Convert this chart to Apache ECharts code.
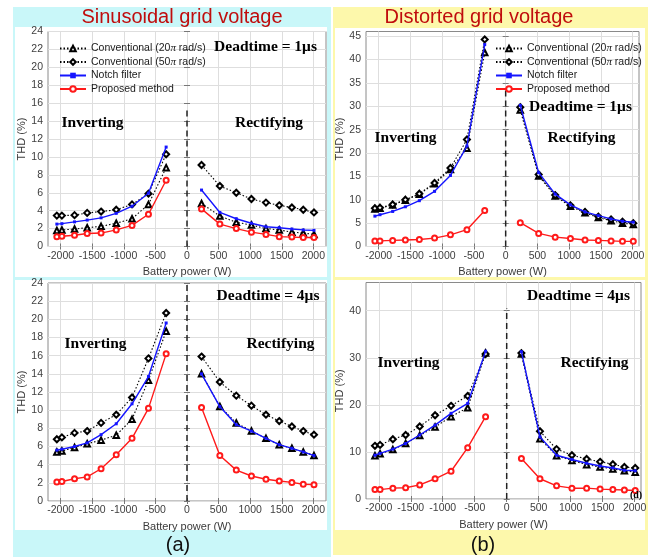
<!DOCTYPE html>
<html><head><meta charset="utf-8">
<script src="https://cdn.jsdelivr.net/npm/echarts@6/dist/echarts.min.js"></script>
<style>html,body{margin:0;padding:0;background:#fff;}#c{width:655px;height:557px;}</style>
</head><body><div id="c"></div>
<script>
// ---------- data ----------
const xPower = [-2060,-1980,-1780,-1580,-1360,-1120,-870,-610,-330, 230,520,780,1020,1250,1460,1660,1840,2010];
const xTickValues = [-2000,-1500,-1000,-500,0,500,1000,1500,2000];
const yTicksSmall = [0,2,4,6,8,10,12,14,16,18,20,22,24];
const yTicksTR = [0,5,10,15,20,25,30,35,40,45];
const yTicksBR = [0,10,20,30,40];
const seriesNames = ['Conventional (20π rad/s)','Conventional (50π rad/s)','Notch filter','Proposed method'];

// (a) sinusoidal grid voltage, deadtime = 1us
const sin1Conv20 = [1.8,1.85,1.95,2.1,2.25,2.6,3.1,4.7,8.8, 4.8,3.4,2.7,2.4,2.0,1.85,1.6,1.5,1.35];
const sin1Conv50 = [3.45,3.45,3.5,3.75,3.9,4.1,4.7,5.9,10.3, 9.1,6.75,6.0,5.3,4.9,4.6,4.35,4.1,3.8];
const sin1Notch  = [2.5,2.55,2.75,2.95,3.2,3.7,4.5,5.95,11.1, 6.3,3.8,3.1,2.6,2.2,2.1,1.95,1.85,1.8];
const sin1Prop   = [1.1,1.15,1.25,1.45,1.5,1.85,2.35,3.6,7.4, 4.2,2.5,2.0,1.6,1.35,1.1,1.05,1.0,1.0];
// (a) sinusoidal grid voltage, deadtime = 4us
const sin4Conv20 = [5.4,5.5,5.9,6.3,6.7,7.25,9.0,13.3,18.7, 14.0,10.4,8.6,7.7,6.9,6.2,5.8,5.4,5.0];
const sin4Conv50 = [6.8,7.0,7.5,7.7,8.6,9.5,11.4,15.7,20.7, 15.9,13.1,11.6,10.5,9.5,8.8,8.2,7.7,7.3];
const sin4Notch  = [5.6,5.7,6.0,6.4,7.3,8.5,10.7,13.7,19.6, 14.0,10.4,8.4,7.7,6.9,6.2,5.8,5.4,5.0];
const sin4Prop   = [2.1,2.15,2.45,2.65,3.55,5.1,6.9,10.2,16.2, 10.3,5.0,3.4,2.75,2.4,2.2,2.05,1.85,1.8];
// (b) distorted grid voltage, deadtime = 1us
const dis1Conv20 = [8.0,8.2,8.9,9.9,11.2,13.4,16.5,21.0,41.5, 29.2,15.1,10.8,8.6,7.2,6.2,5.5,5.0,4.7];
const dis1Conv50 = [8.2,8.3,9.0,10.0,11.3,13.6,16.8,22.9,44.3, 29.8,15.4,11.0,8.8,7.4,6.4,5.8,5.3,5.0];
const dis1Notch  = [6.5,6.8,7.5,8.5,9.8,11.8,15.2,21.5,43.2, 30.2,15.8,11.2,8.9,7.4,6.6,5.9,5.4,5.2];
const dis1Prop   = [1.2,1.2,1.3,1.4,1.5,1.8,2.5,3.6,7.7, 5.1,2.8,2.0,1.7,1.4,1.3,1.2,1.1,1.1];
// (b) distorted grid voltage, deadtime = 4us
const dis4Conv20 = [9.2,9.6,10.5,11.8,13.5,15.3,17.5,19.4,31.0, 30.8,12.8,9.2,8.2,7.3,6.8,6.4,6.0,5.7];
const dis4Conv50 = [11.3,11.5,12.7,13.6,15.4,17.8,19.8,21.9,30.8, 31.0,14.4,10.6,9.3,8.5,7.9,7.4,6.8,6.6];
const dis4Notch  = [9.3,9.7,10.6,11.8,13.6,15.7,18.2,20.3,31.4, 31.3,13.2,9.3,8.4,7.6,7.0,6.6,6.1,6.0];
const dis4Prop   = [2.0,2.0,2.3,2.4,3.0,4.3,5.9,10.9,17.5, 8.6,4.3,2.8,2.3,2.3,2.1,2.0,1.9,1.8];
// top of dashed zero line per panel (TL, TR, BL, BR)
const dashTop = [15.4, 33.4, 24, 40.5];

// ---------- layout ----------
const panels = [
  {grid:{left:48, top:31.5, width:278, height:215}, xMax:2200, yMax:24, yTicks:yTicksSmall, data:[sin1Conv20,sin1Conv50,sin1Notch,sin1Prop]},
  {grid:{left:366, top:31.5, width:273, height:215}, xMax:2100, yMax:46, yTicks:yTicksTR, data:[dis1Conv20,dis1Conv50,dis1Notch,dis1Prop]},
  {grid:{left:48, top:283, width:278, height:218}, xMax:2200, yMax:24, yTicks:yTicksSmall, data:[sin4Conv20,sin4Conv50,sin4Notch,sin4Prop]},
  {grid:{left:366, top:282.5, width:275, height:216.5}, xMax:2100, yMax:46, yTicks:yTicksBR, data:[dis4Conv20,dis4Conv50,dis4Notch,dis4Prop]}
];

const styles = [
  {color:'#000', line:{type:[1.5,2], width:1.1}, symbol:'emptyTriangle', size:5.5, bw:1.2},
  {color:'#000', line:{type:[1.5,2], width:1.1}, symbol:'emptyDiamond', size:6, bw:1.2},
  {color:'#1515ff', line:{type:'solid', width:1.4}, symbol:'rect', size:3, bw:0},
  {color:'#ff1a1a', line:{type:'solid', width:1.4}, symbol:'emptyCircle', size:5, bw:1.1}
];

const FONT = 'Liberation Sans, Arial, sans-serif';
const plain = v => String(v);
const grids = [], xAxes = [], yAxes = [], series = [];
panels.forEach((p, g) => {
  grids.push(Object.assign({show:true, borderColor:'#8a8a8a', borderWidth:1, backgroundColor:'#fff'}, p.grid));
  const xBase = {type:'value', gridIndex:g, min:-2200, max:p.xMax};
  xAxes.push(Object.assign({}, xBase, {
    position:'bottom',
    name:'Battery power (W)', nameLocation:'middle', nameGap:20,
    nameTextStyle:{fontFamily:FONT, fontSize:11, color:'#3a3a3a'},
    axisLine:{show:false},
    axisTick:{show:true, inside:true, length:3, lineStyle:{color:'#777'}, customValues:xTickValues},
    axisLabel:{fontFamily:FONT, fontSize:10.5, color:'#404040', margin:4, customValues:xTickValues, formatter:plain},
    splitLine:{show:true, lineStyle:{color:'#dedede', width:1}}
  }));
  xAxes.push(Object.assign({}, xBase, {
    position:'top', axisLine:{show:false}, axisLabel:{show:false}, splitLine:{show:false},
    axisTick:{show:true, inside:true, length:3, lineStyle:{color:'#777'}, customValues:xTickValues}
  }));
  const yBase = {type:'value', gridIndex:g, min:0, max:p.yMax};
  yAxes.push(Object.assign({}, yBase, {
    position:'left',
    name:'THD (%)', nameLocation:'middle', nameGap:13, nameRotate:90,
    nameTextStyle:{fontFamily:FONT, fontSize:11, color:'#3a3a3a'},
    axisLine:{show:false},
    axisTick:{show:true, inside:true, length:3, lineStyle:{color:'#777'}, customValues:p.yTicks},
    axisLabel:{fontFamily:FONT, fontSize:10.5, color:'#404040', margin:5, customValues:p.yTicks, formatter:plain},
    splitLine:{show:true, lineStyle:{color:'#dedede', width:1}}
  }));
  yAxes.push(Object.assign({}, yBase, {
    position:'right', axisLine:{show:false}, axisLabel:{show:false}, splitLine:{show:false},
    axisTick:{show:true, inside:true, length:3, lineStyle:{color:'#777'}, customValues:p.yTicks}
  }));
  // dashed zero line
  series.push({
    type:'line', xAxisIndex:2*g, yAxisIndex:2*g, silent:true, symbol:'none',
    data:[[0,0],[0,dashTop[g]]],
    lineStyle:{color:'#222', width:1.5, type:[6,4]}, z:1
  });
  p.data.forEach((vals, s) => {
    const st = styles[s];
    [[0,9],[9,18]].forEach(([a,b]) => {
      series.push({
        type:'line', name:seriesNames[s], xAxisIndex:2*g, yAxisIndex:2*g,
        data: xPower.slice(a,b).map((x,i) => [x, vals[a+i]]),
        symbol:st.symbol, symbolSize:st.size, showSymbol:true,
        color:st.color,
        lineStyle:Object.assign({color:st.color}, st.line),
        itemStyle:{color:st.color, borderColor:st.color, borderWidth:st.bw},
        z:2+s, animation:false
      });
    });
  });
});

const legendBase = {
  orient:'vertical', itemWidth:26, itemHeight:7, itemGap:0,
  data:seriesNames,
  formatter: n => n.replace('π', '{i|π}'),
  textStyle:{fontFamily:FONT, fontSize:10.5, lineHeight:13.5, color:'#1a1a1a',
    rich:{i:{fontFamily:'Liberation Serif, serif', fontStyle:'italic', fontSize:11, lineHeight:13.5, color:'#1a1a1a'}}},
  selectedMode:false
};

function txt(x, y, text, font, fill, align) {
  return {type:'text', x:x, y:y, z:100, silent:true,
    style:{text:text, font:font, fill:fill||'#000', align:align||'center', verticalAlign:'middle'}};
}
function rect(x, y, w, h, fill) {
  return {type:'rect', z:-100, silent:true, shape:{x:x, y:y, width:w, height:h}, style:{fill:fill}};
}
const bold = 'bold 15.5px "Liberation Serif", "Times New Roman", serif';
const graphics = [
  rect(13, 7, 318, 550, '#c9f7f9'),
  rect(333, 7, 315, 548, '#fdf8ab'),
  rect(15, 27, 312, 250, '#ffffff'),
  rect(15, 280, 312, 250, '#ffffff'),
  rect(335, 28, 310, 249, '#ffffff'),
  rect(335, 280, 310, 250, '#ffffff'),
  txt(182, 17, 'Sinusoidal grid voltage', '20px "Liberation Sans", Arial, sans-serif', '#c00d0d'),
  txt(479, 17, 'Distorted grid voltage', '20px "Liberation Sans", Arial, sans-serif', '#c00d0d'),
  txt(178, 545, '(a)', '20px "Liberation Sans", Arial, sans-serif', '#111'),
  txt(483, 545, '(b)', '20px "Liberation Sans", Arial, sans-serif', '#111'),
  txt(265.5, 47, 'Deadtime = 1μs', bold),
  txt(580.5, 107, 'Deadtime = 1μs', bold),
  txt(268, 296, 'Deadtime = 4μs', bold),
  txt(578.5, 296, 'Deadtime = 4μs', bold),
  txt(92.5, 123, 'Inverting', bold), txt(269, 123, 'Rectifying', bold),
  txt(405.5, 138, 'Inverting', bold), txt(581.5, 138, 'Rectifying', bold),
  txt(95.5, 344, 'Inverting', bold), txt(280.5, 344, 'Rectifying', bold),
  txt(408.5, 363, 'Inverting', bold), txt(594.5, 363, 'Rectifying', bold),
  txt(636, 495, '(d)', 'bold 10px "Liberation Serif", serif')
];

const chart = echarts.init(document.getElementById('c'), null, {renderer:'canvas'});
chart.setOption({
  animation:false,
  backgroundColor:'#ffffff',
  grid:grids, xAxis:xAxes, yAxis:yAxes, series:series,
  legend:[
    Object.assign({}, legendBase, {left:54, top:36.75}),
    Object.assign({}, legendBase, {left:490, top:36.75})
  ],
  graphic:graphics
});
</script>
</body></html>
